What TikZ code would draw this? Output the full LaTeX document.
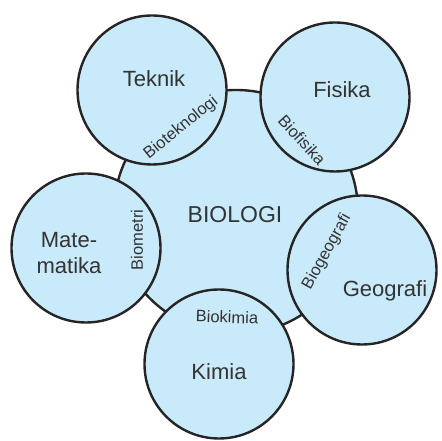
\documentclass[tikz,border=0pt]{standalone}
\usepackage{fontspec}
\setmainfont{Liberation Sans}
\definecolor{skyfill}{HTML}{C8EAFA}
\definecolor{inkline}{HTML}{262424}
\definecolor{inktext}{HTML}{333333}
\tikzset{
  every picture/.style={
    line join=round,
    line cap=round,
  },
  field/.style={circle, draw=inkline, fill=skyfill, line width=2.4pt,
    inner sep=0pt, minimum size=#1},
  bigname/.style={text=inktext, font=\fontsize{22}{26}\selectfont,
    align=center, inner sep=0pt},
  linkname/.style={text=inktext, font=\fontsize{16.5}{19}\selectfont,
    inner sep=0pt},
}
\begin{document}
\begin{tikzpicture}[x=1pt,y=1pt]
\useasboundingbox (0,0) rectangle (442,441);
% the core circle first, the five neighbours drawn over it
\node[field=244] (biologi) at (236,229) {};
\node[field=149] (teknik) at (152,351) {};
\node[field=149] (fisika) at (335,344) {};
\node[field=149] (matematika) at (86,193) {};
\node[field=149] (geografi) at (362,171) {};
\node[field=149] (kimia) at (219,77) {};
% names of the fields
\node[bigname, font=\fontsize{23}{26}\selectfont, anchor=base] (tbiologi) at (235,218) {BIOLOGI};
\node[bigname, anchor=base] (tteknik) at (154,354) {Teknik};
\node[bigname, anchor=base] (tfisika) at (342,343) {Fisika};
\node[bigname] (tmatematika) at (69,188) {Mate-\\matika};
\node[bigname, anchor=base] (tgeografi) at (385,144) {Geografi};
\node[bigname, anchor=base] (tkimia) at (219,61) {Kimia};
% the shared branches
\node[linkname, rotate=39] (bioteknologi) at (181,313) {Bioteknologi};
\node[linkname, rotate=-48] (biofisika) at (302,301) {Biofisika};
\node[linkname, rotate=90] (biometri) at (137,201) {Biometri};
\node[linkname, rotate=61] (biogeografi) at (327,189) {Biogeografi};
\node[linkname, rotate=-2] (biokimia) at (227,124) {Biokimia};
\end{tikzpicture}
\end{document}
